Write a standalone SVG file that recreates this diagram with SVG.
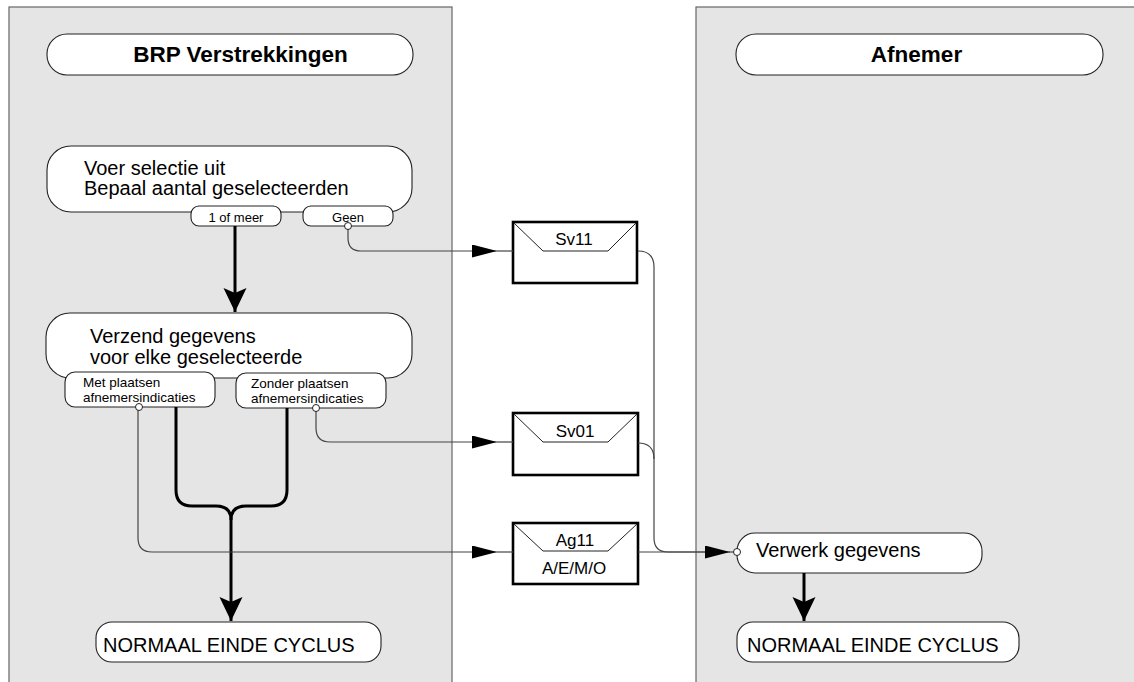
<svg xmlns="http://www.w3.org/2000/svg" width="1134" height="682" viewBox="0 0 1134 682">
<defs>
<style>
.lane{fill:#e5e5e5;stroke:#666;stroke-width:1.2}
.box{fill:#fff;stroke:#222;stroke-width:1.1}
.env{fill:#fff;stroke:#000;stroke-width:2.6}
.flap{fill:none;stroke:#222;stroke-width:1}
.t{font-family:"Liberation Sans",Arial,sans-serif;fill:#000}
.hd{font-size:22.5px;font-weight:bold;text-anchor:middle}
.big{font-size:20px}
.sm{font-size:13px}
.lb{font-size:13.5px}
.et{font-size:17px;text-anchor:middle}
.thin{fill:none;stroke:#444;stroke-width:1.2}
.thick{fill:none;stroke:#000;stroke-width:3}
.port{fill:#fff;stroke:#222;stroke-width:1}
</style>
<marker id="ah" markerUnits="userSpaceOnUse" markerWidth="26" markerHeight="14" refX="25" refY="6.5" orient="auto">
<path d="M0,0 L25,6.5 L0,13 Z" fill="#000"/>
</marker>
<marker id="ahb" markerUnits="userSpaceOnUse" markerWidth="26" markerHeight="24" refX="24" refY="11.5" orient="auto">
<path d="M0,0 L24,11.5 L0,23 L5,11.5 Z" fill="#000"/>
</marker>
</defs>

<g id="lanes">
<rect class="lane" x="9" y="7" width="443" height="690"/>
<rect class="lane" x="696" y="7" width="460" height="690"/>
</g>

<g id="hdr-brp">
<rect class="box" x="47" y="34" width="366" height="41" rx="20"/>
<text class="t hd" x="240.5" y="62">BRP Verstrekkingen</text>
</g>
<g id="hdr-afnemer">
<rect class="box" x="736" y="34" width="367" height="41" rx="20"/>
<text class="t hd" x="916.5" y="62">Afnemer</text>
</g>

<g id="voer-selectie">
<rect class="box" x="47" y="146" width="365" height="66" rx="24"/>
<text class="t big" x="84" y="175">Voer selectie uit</text>
<text class="t big" x="84" y="195">Bepaal aantal geselecteerden</text>
<rect class="box" x="191" y="206" width="90" height="20" rx="8"/>
<text class="t sm" x="236" y="222" text-anchor="middle">1 of meer</text>
<rect class="box" x="303" y="206" width="90" height="20" rx="8"/>
<text class="t sm" x="348" y="222" text-anchor="middle">Geen</text>
</g>

<g id="verzend">
<rect class="box" x="46" y="313" width="366" height="65" rx="24"/>
<text class="t big" x="90" y="343">Verzend gegevens</text>
<text class="t big" x="90" y="364">voor elke geselecteerde</text>
<rect class="box" x="65" y="372" width="150" height="35" rx="10"/>
<text class="t lb" x="83" y="387">Met plaatsen</text>
<text class="t lb" x="83" y="402">afnemersindicaties</text>
<rect class="box" x="236" y="373" width="150" height="35" rx="10"/>
<text class="t lb" x="251" y="388">Zonder plaatsen</text>
<text class="t lb" x="251" y="403">afnemersindicaties</text>
</g>

<g id="einde-brp">
<rect class="box" x="96" y="622" width="285" height="40" rx="16"/>
<text class="t big" x="103" y="652">NORMAAL EINDE CYCLUS</text>
</g>

<g id="sv11">
<rect class="env" x="513" y="222" width="124" height="61"/>
<path class="flap" d="M514,223 L543,251 H608 L636,223"/>
<text class="t et" x="574" y="245">Sv11</text>
</g>
<g id="sv01">
<rect class="env" x="513" y="413" width="125" height="62"/>
<path class="flap" d="M514,414 L543,442 H608 L637,414"/>
<text class="t et" x="575" y="437">Sv01</text>
</g>
<g id="ag11">
<rect class="env" x="513" y="523" width="125" height="61"/>
<path class="flap" d="M514,524 L543,551 H608 L637,524"/>
<text class="t et" x="575" y="546">Ag11</text>
<text class="t et" x="574" y="574">A/E/M/O</text>
</g>

<g id="verwerk">
<rect class="box" x="737" y="533" width="245" height="40" rx="18"/>
<text class="t big" x="756" y="557">Verwerk gegevens</text>
</g>
<g id="einde-afnemer">
<rect class="box" x="737" y="622" width="282" height="40" rx="16"/>
<text class="t big" x="747" y="652">NORMAAL EINDE CYCLUS</text>
</g>

<g id="connectors">
<path class="thick" d="M235,226 V312" marker-end="url(#ahb)"/>
<path class="thick" d="M176,407 V490 Q176,506 192,506 H216 Q231,506 231,520"/>
<path class="thick" d="M287,408 V490 Q287,506 271,506 H246 Q231,506 231,520 V621" marker-end="url(#ahb)"/>
<path class="thick" d="M804,573 V621" marker-end="url(#ahb)"/>

<path class="thin" d="M348,229 V238 Q348,251 361,251 H497" marker-end="url(#ah)"/>
<path class="thin" d="M497,251 H513"/>
<path class="thin" d="M316,411 V428 Q316,442 330,442 H497" marker-end="url(#ah)"/>
<path class="thin" d="M497,442 H513"/>
<path class="thin" d="M138,410 V538 Q138,552 152,552 H497" marker-end="url(#ah)"/>
<path class="thin" d="M497,552 H513"/>

<path class="thin" d="M638,251 Q654,251 654,267 V538 Q654,552 668,552 H730" marker-end="url(#ah)"/>
<path class="thin" d="M638,443 Q654,443 654,459"/>
<path class="thin" d="M638,552 H705"/>
<path class="thin" d="M729,552 H734"/>

<circle class="port" cx="348" cy="226" r="3.5"/>
<circle class="port" cx="139" cy="407" r="3.5"/>
<circle class="port" cx="316" cy="408" r="3.5"/>
<circle class="port" cx="737" cy="552" r="3.5"/>
</g>
</svg>
